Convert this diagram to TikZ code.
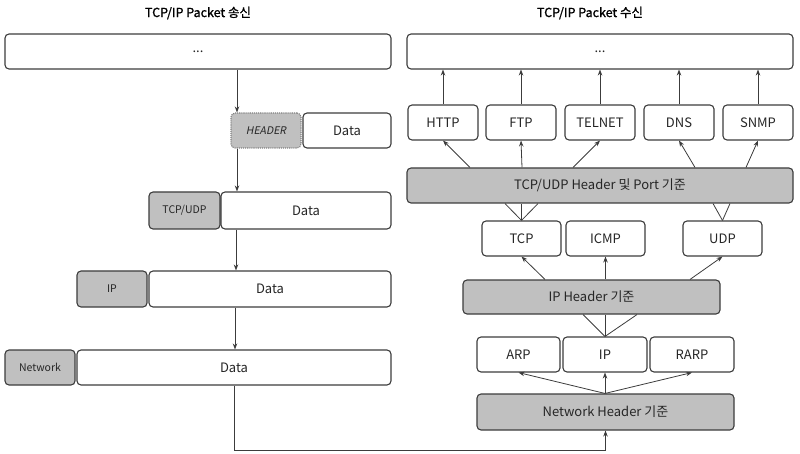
\documentclass[tikz,border=0pt]{standalone}
\usepackage{fontspec}
\setmainfont{Noto Sans CJK KR}
\newfontfamily\titlefont{Noto Sans CJK KR}[FakeBold=1.2]
\newfontfamily\slfont{Noto Sans CJK KR}[FakeSlant=0.2]
\usetikzlibrary{arrows.meta}
\definecolor{edge}{HTML}{3C3C3C}
\definecolor{hdrgray}{HTML}{C0C0C0}
\tikzset{
  box/.style={draw=edge, line width=1.1pt, rounded corners=4pt, fill=white, inner sep=0pt,
    font=\fontsize{13}{15}\selectfont, text=black!85},
  gbox/.style={box, fill=hdrgray},
  small/.style={font=\fontsize{10.5}{12}\selectfont},
  arr/.style={draw=edge, line width=0.8pt, -{Stealth[length=6pt,width=4.5pt]}},
  ln/.style={draw=edge, line width=0.8pt},
  sz/.style 2 args={minimum width=#1pt, minimum height=#2pt},
}
\begin{document}
\begin{tikzpicture}[x=1pt,y=-1pt]
\useasboundingbox (0,0) rectangle (800,454);
% titles
\node[font=\titlefont\fontsize{12.5}{14}\selectfont] (t1) at (198,13) {TCP/IP Packet 송신};
\node[font=\titlefont\fontsize{12.5}{14}\selectfont] (t2) at (590,13) {TCP/IP Packet 수신};
% left side
\node[box, sz={386}{35}] (ltop) at (198,51.5) {...};
\node[gbox, sz={70}{35}, draw=gray, densely dotted, font=\slfont\fontsize{10.5}{12}\selectfont] (lhdr) at (266,130.5) {HEADER};
\node[box, sz={88}{35}] (ld1) at (347,130.5) {Data};
\node[gbox, small, sz={71}{37}] (ltcp) at (184.5,210.5) {TCP/UDP};
\node[box, sz={170}{37}] (ld2) at (306,210.5) {Data};
\node[gbox, small, sz={70}{36}] (lip) at (112,289) {IP};
\node[box, sz={242}{36}] (ld3) at (270,289) {Data};
\node[gbox, small, sz={70}{35}] (lnet) at (40,367.5) {Network};
\node[box, sz={314}{35}] (ld4) at (234,367.5) {Data};
\coordinate (xa) at (237,0);
\coordinate (xb) at (236,0);
\coordinate (xc) at (235,0);
\draw[arr] (ltop.south -| xa) -- (lhdr.north -| xa);
\draw[arr] (lhdr.south -| xa) -- (ld2.north -| xa);
\draw[arr] (ld2.south -| xb) -- (ld3.north -| xb);
\draw[arr] (ld3.south -| xc) -- (ld4.north -| xc);
% right side
\node[box, sz={386}{35}] (rtop) at (600,51.5) {...};
\node[box, sz={70}{35}] (http) at (443,122.5) {HTTP};
\node[box, sz={70}{35}] (ftp) at (521,122.5) {FTP};
\node[box, sz={70}{35}] (telnet) at (600,122.5) {TELNET};
\node[box, sz={70}{35}] (dns) at (679,122.5) {DNS};
\node[box, sz={70}{35}] (snmp) at (758,122.5) {SNMP};
\node[gbox, sz={386}{35}] (rtu) at (600,185.5) {TCP/UDP Header 및 Port 기준};
\node[box, sz={79}{35}] (tcp) at (521.5,238.5) {TCP};
\node[box, sz={79}{35}] (icmp) at (605.5,238.5) {ICMP};
\node[box, sz={79}{35}] (udp) at (722.5,238.5) {UDP};
\node[gbox, sz={257}{34}] (riph) at (591.5,297) {IP Header 기준};
\node[box, sz={83}{35}] (arp) at (518.5,354.5) {ARP};
\node[box, sz={84}{35}] (ip) at (605,354.5) {IP};
\node[box, sz={84}{35}] (rarp) at (692,354.5) {RARP};
\node[gbox, sz={257}{36}] (rnet) at (605.5,412) {Network Header 기준};
% apps -> top
\foreach \n in {http,ftp,telnet,dns,snmp}
  \draw[arr] (\n.north) -- (\n.north |- rtop.south);
% tcp/udp header -> apps
\coordinate (c470) at (470,0);
\coordinate (c522) at (522,0);
\coordinate (c573) at (573,0);
\coordinate (c695) at (695,0);
\coordinate (c746) at (746,0);
\draw[arr] (rtu.north -| c470) -- (http.south);
\draw[arr] (rtu.north -| c522) -- (ftp.south);
\draw[arr] (rtu.north -| c573) -- (telnet.south);
\draw[arr] (rtu.north -| c695) -- (dns.south);
\draw[arr] (rtu.north -| c746) -- (snmp.south);
% tcp/udp -> header lines
\coordinate (c505) at (505,0);
\coordinate (c538) at (538,0);
\coordinate (c713) at (713,0);
\coordinate (c730) at (730,0);
\draw[ln] (tcp.north) -- (rtu.south -| c505);
\draw[ln] (tcp.north) -- (rtu.south -| tcp.north);
\draw[ln] (tcp.north) -- (rtu.south -| c538);
\draw[ln] (udp.north) -- (rtu.south -| c713);
\draw[ln] (udp.north) -- (rtu.south -| c730);
% ip header -> tcp icmp udp
\coordinate (c545) at (545,0);
\coordinate (c690) at (690,0);
\draw[arr] (riph.north -| c545) -- (tcp.south);
\draw[arr] (riph.north -| icmp.south) -- (icmp.south);
\draw[arr] (riph.north -| c690) -- (udp.south);
% ip -> ip header lines
\coordinate (c583) at (583,0);
\coordinate (c637) at (637,0);
\draw[ln] (ip.north) -- (riph.south -| c583);
\draw[ln] (ip.north) -- (riph.south -| ip.north);
\draw[ln] (ip.north) -- (riph.south -| c637);
% network header -> arp ip rarp
\draw[arr] (rnet.north -| ip.south) -- (arp.south);
\draw[arr] (rnet.north -| ip.south) -- (ip.south);
\draw[arr] (rnet.north -| ip.south) -- (rarp.south);
% bottom connector
\coordinate (ybot) at (0,450);
\draw[arr] (ld4.south) -- (ld4.south |- ybot) -| (rnet.south);
\end{tikzpicture}
\end{document}
